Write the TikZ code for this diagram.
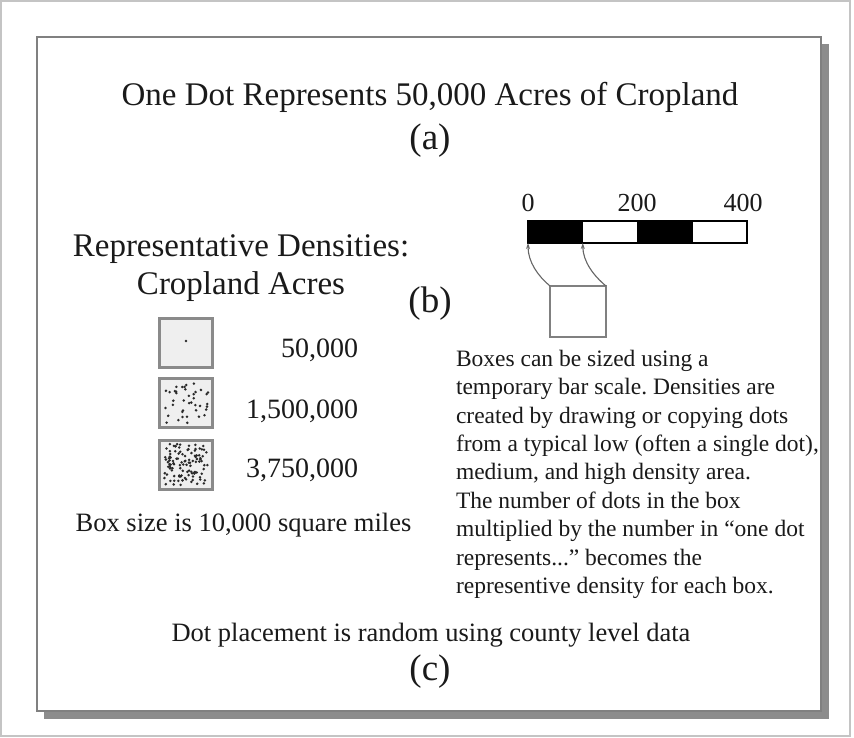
\documentclass[tikz,border=0pt]{standalone}
\usepackage{fontspec}
\setmainfont{Liberation Serif}
\usetikzlibrary{arrows.meta}
\frenchspacing
\definecolor{outergray}{HTML}{C4C4C4}
\definecolor{framegray}{HTML}{808080}
\definecolor{shadowgray}{HTML}{8C8C8C}
\definecolor{boxgray}{HTML}{8A8A8A}
\definecolor{boxfill}{HTML}{EFEFEF}
\definecolor{dotc}{HTML}{2A2A2A}
\definecolor{txtc}{HTML}{1A1A1A}
\definecolor{arrc}{HTML}{666666}
\begin{document}
\begin{tikzpicture}[x=1pt,y=-1pt,
  txt/.style={inner sep=0pt, outer sep=0pt, anchor=base, text=txtc},
  bigtxt/.style={txt, font=\fontsize{33}{40}\selectfont},
  lettertxt/.style={txt, font=\fontsize{37}{44}\selectfont},
  midtxt/.style={txt, font=\fontsize{26.5}{32}\selectfont},
  numtxt/.style={txt, font=\fontsize{28}{34}\selectfont, anchor=base east},
  scaletxt/.style={txt, font=\fontsize{26}{32}\selectfont},
  paratxt/.style={inner sep=0pt, outer sep=0pt, anchor=north west, align=left, text=txtc, font=\fontsize{23.5}{28.4}\selectfont\frenchspacing},
  barseg/.style={draw=black, line width=1.3pt, minimum width=54.75pt, minimum height=22pt, inner sep=0pt, outer sep=0pt},
  densbox/.style={draw=boxgray, line width=3pt, fill=boxfill, minimum width=53pt, minimum height=49pt, inner sep=0pt, outer sep=0pt},
  samplebox/.style={draw=framegray, line width=2pt, fill=white, minimum width=56pt, minimum height=51pt, inner sep=0pt, outer sep=0pt},
  arr/.style={draw=arrc, line width=1.1pt, -{Stealth[length=6pt,width=4pt]}}
]
\useasboundingbox (0,0) rectangle (854,738);
% outer frame
\draw[outergray, line width=2pt] (1,1) rectangle (850,736);
% shadow and main frame
\fill[shadowgray] (44,44) rectangle (829,719);
\draw[framegray, line width=2.5pt, fill=white] (37,37) rectangle (821,711);

% title
\node[bigtxt] (title) at (430,106) {One Dot Represents 50,000 Acres of Cropland};
\node[lettertxt] (la) at (430,150) {(a)};

% bar scale
\node[scaletxt] (s0) at (528,212) {0};
\node[scaletxt] (s200) at (637,212) {200};
\node[scaletxt] (s400) at (743,212) {400};
\node[barseg, fill=black] (b1) at (555.4,232) {};
\node[barseg, fill=white] (b2) at (610.1,232) {};
\node[barseg, fill=black] (b3) at (664.9,232) {};
\node[barseg, fill=white] (b4) at (719.6,232) {};

% sample box and arrows
\node[samplebox] (sbox) at (578,311.5) {};
\draw[arr] (sbox.north west) .. controls (538,276) and (528,262) .. (b1.south west);
\draw[arr] (sbox.north east) .. controls (594,276) and (583,262) .. (b2.south west);

% left legend
\node[bigtxt] (rd) at (241,257) {Representative Densities:};
\node[bigtxt] (ca) at (241,294) {Cropland Acres};
\node[lettertxt] (lb) at (430,312) {(b)};

\node[densbox] (d1) at (185.5,342.5) {};
\node[densbox] (d2) at (185.5,403) {};
\node[densbox] (d3) at (185.5,464.5) {};

\fill[dotc] (186,341) circle (1.4);
\pgfmathsetseed{2024}
\foreach \k in {1,...,40}{
  \pgfmathsetmacro{\px}{163+45*rnd}
  \pgfmathsetmacro{\py}{383+40*rnd}
  \fill[dotc] (\px,\py) circle (1.4);
}
\foreach \k in {1,...,110}{
  \pgfmathsetmacro{\px}{163+45*rnd}
  \pgfmathsetmacro{\py}{444+41*rnd}
  \fill[dotc] (\px,\py) circle (1.4);
}

\node[numtxt] (n1) at (358,357) {50,000};
\node[numtxt] (n2) at (358,418) {1,500,000};
\node[numtxt] (n3) at (358,477) {3,750,000};

\node[midtxt] (bs) at (243.5,531) {Box size is 10,000 square miles};

% paragraph
\node[paratxt] (para) at (456,350) {Boxes can be sized using a\\
temporary bar scale. Densities are\\
created by drawing or copying dots\\
from a typical low (often a single dot),\\
medium, and high density area.\\
The number of dots in the box\\
multiplied by the number in ``one dot\\
represents...'' becomes the\\
representive density for each box.};

% bottom
\node[midtxt] (dp) at (431,641) {Dot placement is random using county level data};
\node[lettertxt] (lc) at (430,680) {(c)};
\end{tikzpicture}
\end{document}
